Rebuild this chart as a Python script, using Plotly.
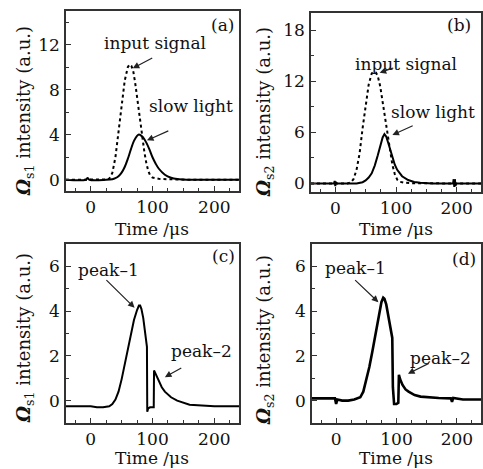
import plotly.graph_objects as go

# ---------------- data ----------------
# (a) Omega_s1: input signal (dashed) and slow light (solid)
a_in_t = [-40, 20, 25, 30, 35, 40, 45, 50, 55, 60, 63, 66, 69, 72, 75, 78, 81, 84, 87, 90, 93, 96, 100, 110, 120, 140, 160, 240]
a_in_v = [0, 0, 0.02, 0.1, 0.6, 2.0, 4.3, 6.8, 8.8, 10.0, 10.25, 10.1, 9.6, 8.6, 7.3, 5.9, 4.6, 3.5, 2.4, 1.5, 0.8, 0.4, 0.2, 0.08, 0.04, 0.02, 0, 0]
a_sl_t = [-40, -8, -5, -2, 25, 35, 40, 45, 50, 55, 60, 65, 70, 75, 78, 81, 85, 90, 95, 100, 105, 110, 120, 130, 140, 150, 160, 240]
a_sl_v = [0, 0, 0.15, 0, 0, 0.05, 0.14, 0.31, 0.63, 1.13, 1.85, 2.7, 3.45, 3.9, 4.02, 3.95, 3.75, 3.3, 2.7, 2.0, 1.45, 1.0, 0.45, 0.18, 0.06, 0.02, 0, 0]

# (b) Omega_s2
b_in_t = [-40, 20, 25, 30, 35, 40, 45, 50, 55, 60, 63, 67, 70, 74, 78, 82, 86, 90, 94, 98, 102, 106, 115, 130, 240]
b_in_v = [0, 0, 0.1, 0.5, 1.6, 3.5, 6.5, 9.3, 11.6, 12.9, 13.1, 13.0, 12.6, 11.4, 9.6, 7.6, 5.6, 3.7, 2.2, 1.1, 0.45, 0.2, 0.08, 0.02, 0]
b_sl_t = [-40, -2, -1, 0, 1, 2, 35, 40, 45, 50, 55, 60, 65, 70, 75, 78, 81, 84, 87, 90, 94, 98, 102, 106, 110, 120, 130, 140, 150, 160, 194, 195, 196, 197, 198, 199, 240]
b_sl_v = [0, 0, 0.3, -0.3, 0.2, 0, 0, 0.05, 0.15, 0.35, 0.7, 1.2, 2.1, 3.3, 4.6, 5.4, 5.8, 5.5, 4.8, 4.0, 3.0, 2.2, 1.6, 1.15, 0.85, 0.4, 0.18, 0.08, 0.03, 0, 0, 0.5, -0.4, 0.5, -0.3, 0, 0]

# (c) Omega_s1 with two peaks
c_t = [-40, -20, 0, 10, 20, 30, 35, 40, 45, 50, 55, 60, 65, 70, 75, 78, 80, 82, 85, 88, 90, 91, 91.5, 93, 96, 100, 102, 102.5, 104, 107, 110, 115, 120, 130, 140, 150, 160, 180, 200, 240]
c_v = [-0.25, -0.25, -0.25, -0.3, -0.3, -0.25, -0.15, 0.05, 0.4, 0.95, 1.6, 2.3, 3.0, 3.6, 4.05, 4.25, 4.25, 4.1, 3.7, 3.1, 2.6, 2.4, -0.5, -0.35, -0.3, -0.3, -0.3, 1.35, 1.25, 1.05, 0.85, 0.6, 0.4, 0.15, 0.0, -0.1, -0.18, -0.22, -0.25, -0.25]

# (d) Omega_s2 with two peaks
d_t = [-40, -10, -2, 0, 2, 10, 20, 30, 40, 45, 50, 55, 60, 65, 70, 75, 78, 80, 83, 86, 90, 93, 94, 96, 100, 103, 104, 106, 110, 115, 120, 130, 140, 150, 170, 190, 192, 194, 210, 240]
d_v = [0.1, 0.1, 0.1, -0.15, 0.05, 0.0, 0.0, 0.05, 0.15, 0.4, 0.9, 1.5, 2.2, 3.0, 3.8, 4.4, 4.6, 4.55, 4.3, 3.8, 3.2, 2.8, 0.6, -0.15, -0.15, -0.1, 1.15, 0.95, 0.7, 0.5, 0.4, 0.25, 0.18, 0.15, 0.12, 0.1, -0.05, 0.12, 0.05, 0.05]

x_ticks = [0, 100, 200]
x_range = [-40, 240]

FONT = "DejaVu Serif"
INK = "#111"
W, H = 483, 469

def px(v):
    return v / W

def py(v):
    return 1 - v / H

fig = go.Figure()
fig.add_trace(go.Scatter(x=a_in_t, y=a_in_v, mode="lines", line=dict(color="black", width=2, dash="3px,3px"), xaxis="x", yaxis="y"))
fig.add_trace(go.Scatter(x=a_sl_t, y=a_sl_v, mode="lines", line=dict(color="black", width=2, shape="spline"), xaxis="x", yaxis="y"))
fig.add_trace(go.Scatter(x=b_in_t, y=b_in_v, mode="lines", line=dict(color="black", width=2, dash="3px,3px"), xaxis="x2", yaxis="y2"))
fig.add_trace(go.Scatter(x=b_sl_t, y=b_sl_v, mode="lines", line=dict(color="black", width=2), xaxis="x2", yaxis="y2"))
fig.add_trace(go.Scatter(x=c_t, y=c_v, mode="lines", line=dict(color="black", width=2), xaxis="x3", yaxis="y3"))
fig.add_trace(go.Scatter(x=d_t, y=d_v, mode="lines", line=dict(color="black", width=2.6), xaxis="x4", yaxis="y4"))

def xaxis(dom, anchor):
    return dict(domain=dom, anchor=anchor, range=x_range, tickvals=x_ticks, ticks="inside", ticklen=5,
                tickwidth=1.2, tickcolor="#333", showline=True, linecolor="#333", linewidth=1.5, mirror=True,
                showgrid=False, zeroline=False, ticklabelstandoff=0,
                tickfont=dict(family=FONT, size=17, color=INK),
                minor=dict(dtick=25, ticks="inside", ticklen=3, tickcolor="#333", showgrid=False))

def yaxis(dom, anchor, rng, dt, mdt):
    return dict(domain=dom, anchor=anchor, range=rng, dtick=dt, tick0=0, ticks="inside", ticklen=5,
                tickwidth=1.2, tickcolor="#333", showline=True, linecolor="#333", linewidth=1.5, mirror=True,
                showgrid=False, zeroline=False, ticklabelstandoff=1,
                tickfont=dict(family=FONT, size=17, color=INK),
                minor=dict(dtick=mdt, tick0=0, ticks="inside", ticklen=3, tickcolor="#333", showgrid=False))

xa = [px(66), px(239)]
xb = [px(311), px(481)]
xd = [px(312), px(481)]
ya = [py(191), py(11)]
yb = [py(192), py(13)]
yc = [py(423), py(244)]
ydd = [py(423), py(244)]

fig.update_layout(
    width=W, height=H, margin=dict(l=0, r=0, t=0, b=0),
    paper_bgcolor="white", plot_bgcolor="white", showlegend=False,
    xaxis=xaxis(xa, "y"), yaxis=yaxis(ya, "x", [-1, 15], 4, 2),
    xaxis2=xaxis(xb, "y2"), yaxis2=yaxis(yb, "x2", [-1, 20], 6, 3),
    xaxis3=xaxis(xa, "y3"), yaxis3=yaxis(yc, "x3", [-1, 7], 2, 1),
    xaxis4=xaxis(xd, "y4"), yaxis4=yaxis(ydd, "x4", [-1, 7], 2, 1),
)

ann = []

def text(x, y, s, xr, yr, size=17):
    ann.append(dict(x=x, y=y, xref=xr, yref=yr, text=s, showarrow=False, xanchor="center", yanchor="middle",
                    font=dict(family=FONT, size=size, color=INK)))

def arrow(tail, tip, xr, yr):
    ann.append(dict(x=tip[0], y=tip[1], ax=tail[0], ay=tail[1], xref=xr, yref=yr, axref=xr, ayref=yr,
                    text="", showarrow=True, arrowhead=2, arrowsize=1.1, arrowwidth=1.2, arrowcolor="#222"))

# panel labels
text(px(222), py(25), "(a)", "paper", "paper")
text(px(459), py(25), "(b)", "paper", "paper")
text(px(223), py(256), "(c)", "paper", "paper")
text(px(464), py(259), "(d)", "paper", "paper")

# (a)
text(104, 12.2, "input signal", "x", "y")
arrow((102, 10.9), (68, 9.9), "x", "y")
text(162, 6.6, "slow light", "x", "y")
arrow((128, 4.4), (91, 3.5), "x", "y")
# (b)
text(117, 14.0, "input signal", "x2", "y2")
arrow((98, 13.6), (73, 13.0), "x2", "y2")
text(161, 8.4, "slow light", "x2", "y2")
arrow((130, 6.85), (94, 5.7), "x2", "y2")
# (c)
text(28, 5.85, "peak\u20131", "x3", "y3")
arrow((23, 5.45), (71, 4.15), "x3", "y3")
text(180, 2.2, "peak\u20132", "x3", "y3")
arrow((149, 1.5), (120, 1.05), "x3", "y3")
# (d)
text(32, 5.93, "peak\u20131", "x4", "y4")
arrow((29, 5.45), (70, 4.4), "x4", "y4")
text(173, 1.9, "peak\u20132", "x4", "y4")
arrow((156, 1.7), (119, 1.2), "x4", "y4")

# axis titles
for cx, cy in [(152, 229), (396, 229), (152, 458), (396, 458)]:
    text(px(cx), py(cy), "Time /\u03bcs", "paper", "paper", 17)
for cx, cy, sub in [(25, 111, "s1"), (265, 112, "s2"), (25, 338, "s1"), (265, 340, "s2")]:
    ann.append(dict(x=px(cx), y=py(cy), xref="paper", yref="paper", showarrow=False, textangle=-90,
                    xanchor="center", yanchor="middle",
                    text="<b><i>\u03a9</i></b><sub>" + sub + "</sub> intensity (a.u.)",
                    font=dict(family=FONT, size=18, color=INK)))

fig.update_layout(annotations=ann)
fig.write_html("out.html", config={"displayModeBar": False},
               post_script="document.body.style.margin='0';document.body.style.overflow='hidden';")
